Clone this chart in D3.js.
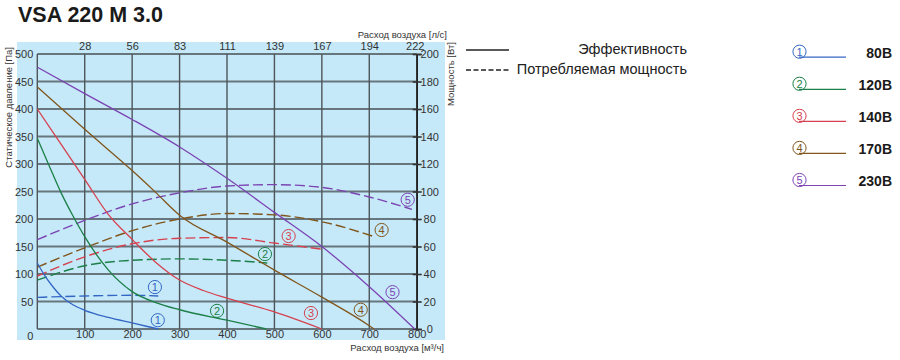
<!DOCTYPE html>
<html><head><meta charset="utf-8">
<script src="https://cdn.jsdelivr.net/npm/d3@7"></script>
<style>body{margin:0;background:#fff;} svg{display:block;font-family:"Liberation Sans",Arial,sans-serif;}</style>
</head><body><svg id="c" width="900" height="360"></svg>
<script>
// ---- data ----
const chartTitle = "VSA 220 M 3.0";
const flowTicks = [0,100,200,300,400,500,600,700,800];
const flowLsLabels = ["28","56","83","111","139","167","194","222"];
const pressureTicks = [50,100,150,200,250,300,350,400,450,500];
const powerTicks = [0,20,40,60,80,100,120,140,160,180,200];
const seriesIds = ["1","2","3","4","5"];
const voltageLabels = ["80В","120В","140В","170В","230В"];

// pressure [Pa] vs flow [m3/h]
const pressure80 = [[0,120],[15,98],[30,80],[50,60],[75,44],[100,34],[150,21],[200,11],[255,0]];
const pressure120 = [[0,347],[25,297],[50,248],[75,206],[100,168],[150,107],[200,68],[250,48],[300,35],[400,16],[483,0]];
const pressure140 = [[0,400],[50,336],[100,272],[150,208],[200,163],[250,121],[300,89],[350,70],[400,56],[500,31],[600,0]];
const pressure170 = [[0,440],[100,363],[200,288],[250,248],[300,207],[400,158],[500,107],[600,58],[700,6],[710,0]];
const pressure230 = [[0,476],[100,428],[200,381],[300,331],[400,274],[500,212],[600,150],[700,77],[796,0]];
// power [W] vs flow [m3/h]
const power80 = [[0,23],[100,24],[200,24.5],[255,24]];
const power120 = [[0,35.5],[100,46],[200,50],[300,51],[400,50],[485,48]];
const power140 = [[0,38.5],[100,52.5],[200,62],[300,66],[400,66.5],[500,62.5],[600,58]];
const power170 = [[0,45],[100,59],[200,71.5],[300,80],[400,84],[500,83],[600,78],[712,67]];
const power230 = [[0,65],[100,79],[200,91],[300,99],[400,104],[500,105],[600,103],[700,96],[790,87]];
// curve marker anchors (data units)
const pressureMarkAt = [[254,16],[379,33],[577,29],[682,35],[749,67]];
const powerMarkAt = [[248,30.5],[480,54.5],[530,67.6],[726,72],[781,94]];

const pressureSeries = [pressure80,pressure120,pressure140,pressure170,pressure230];
const powerSeries = [power80,power120,power140,power170,power230];
const colors = ["#3467c4","#1b7f47","#d5414f","#80561c","#7b44b3"];

// ---- drawing ----
const svg = d3.select("#c");
const x = d3.scaleLinear().domain([0,800]).range([37.3,416.7]);
const yL = d3.scaleLinear().domain([0,500]).range([329,54]);
const yR = d3.scaleLinear().domain([0,200]).range([329,54]);

svg.append("text").attr("x",18).attr("y",22).attr("font-size",21.5).attr("font-weight","bold")
  .attr("fill","#1a1a1a").text(chartTitle);

svg.append("rect").attr("x",17).attr("y",42).attr("width",428).attr("height",298).attr("fill","#c6e9f9");

const g = svg.append("g");
// horizontal grid
g.selectAll("line.h").data(pressureTicks.concat([0])).join("line")
  .attr("x1",x(0)).attr("x2",x(800)).attr("y1",d=>yL(d)).attr("y2",d=>yL(d))
  .attr("stroke","#66767c").attr("stroke-width",1.8);
// vertical grid
g.selectAll("line.v").data(flowTicks).join("line")
  .attr("x1",d=>x(d)).attr("x2",d=>x(d)).attr("y1",yL(0)).attr("y2",yL(500))
  .attr("stroke","#4d5559").attr("stroke-width",1.4);

// right axis
const rAxis = d3.axisRight(yR).tickValues(powerTicks).tickSize(5).tickPadding(4);
const ra = svg.append("g").attr("transform",`translate(${x(800)},0)`).call(rAxis);
ra.select(".domain").attr("stroke","#222").attr("stroke-width",1.6);
ra.selectAll(".tick line").attr("stroke","#333").attr("stroke-width",1.6).attr("x1",-4);
ra.selectAll(".tick text").attr("font-size",11).attr("fill","#333").attr("text-anchor","middle").attr("x",13)
  .attr("font-family","Liberation Sans, Arial, sans-serif");

// left axis labels
const la = d3.axisLeft(yL).tickValues(pressureTicks).tickSize(0).tickPadding(4);
const lag = svg.append("g").attr("transform",`translate(${x(0)},0)`).call(la);
lag.select(".domain").remove();
lag.selectAll(".tick text").attr("font-size",11).attr("fill","#333").attr("font-family","Liberation Sans, Arial, sans-serif");

// bottom axis labels
const ba = d3.axisBottom(x).tickValues(flowTicks.slice(1)).tickSize(0).tickPadding(1);
const bag = svg.append("g").attr("transform",`translate(0,${yL(0)})`).call(ba);
bag.select(".domain").remove();
bag.selectAll(".tick text").attr("font-size",11).attr("fill","#333").attr("font-family","Liberation Sans, Arial, sans-serif");
svg.append("text").attr("x",x(0)-7).attr("y",yL(0)+11).attr("font-size",11).attr("fill","#333")
  .attr("text-anchor","middle").text(String(flowTicks[0]));

// top axis labels
const ta = d3.axisTop(x).tickValues(flowTicks.slice(1)).tickFormat((d,i)=>flowLsLabels[i]).tickSize(0).tickPadding(4);
const tag = svg.append("g").attr("transform",`translate(0,${yL(500)})`).call(ta);
tag.select(".domain").remove();
tag.selectAll(".tick text").attr("font-size",11).attr("fill","#333").attr("font-family","Liberation Sans, Arial, sans-serif");
tag.selectAll(".tick").filter((d,i)=>i===flowLsLabels.length-1).select("text").attr("dx",-2);

// axis titles
svg.append("text").attr("x",447).attr("y",38).attr("font-size",9.5).attr("fill","#333").attr("text-anchor","end").text("Расход воздуха [л/с]");
svg.append("text").attr("x",444).attr("y",351).attr("font-size",9.5).attr("fill","#333").attr("text-anchor","end").text("Расход воздуха [м³/ч]");
svg.append("text").attr("transform","translate(12,47) rotate(-90)").attr("font-size",9.5).attr("fill","#333").attr("text-anchor","end").text("Статическое давление [Па]");
svg.append("text").attr("transform","translate(454,42) rotate(-90)").attr("font-size",9.5).attr("fill","#333").attr("text-anchor","end").text("Мощность [Вт]");

// curves
const lineL = d3.line().x(d=>x(d[0])).y(d=>yL(d[1])).curve(d3.curveMonotoneX);
const lineR = d3.line().x(d=>x(d[0])).y(d=>yR(d[1])).curve(d3.curveMonotoneX);
powerSeries.forEach((s,i)=>{
  svg.append("path").attr("d",lineR(s)).attr("fill","none").attr("stroke",colors[i]).attr("stroke-width",1.4).attr("stroke-dasharray","10,4");
});
pressureSeries.forEach((s,i)=>{
  svg.append("path").attr("d",lineL(s)).attr("fill","none").attr("stroke",colors[i]).attr("stroke-width",1.3);
});

function mark(cx,cy,i){
  const m = svg.append("g").attr("transform",`translate(${cx},${cy})`);
  m.append("circle").attr("r",6.6).attr("fill","none").attr("stroke",colors[i]).attr("stroke-width",1);
  m.append("text").attr("y",4).attr("text-anchor","middle").attr("font-size",11).attr("fill",colors[i]).text(seriesIds[i]);
}
pressureMarkAt.forEach((p,i)=>mark(x(p[0]),yL(p[1]),i));
powerMarkAt.forEach((p,i)=>mark(x(p[0]),yR(p[1]),i));

// legend: line types
svg.append("line").attr("x1",466).attr("x2",509).attr("y1",50).attr("y2",50).attr("stroke","#222").attr("stroke-width",1.3);
svg.append("line").attr("x1",466).attr("x2",509).attr("y1",70).attr("y2",70).attr("stroke","#222").attr("stroke-width",1.3).attr("stroke-dasharray","5,2.5");
svg.append("text").attr("x",687).attr("y",54).attr("font-size",14.5).attr("fill","#222").attr("text-anchor","end").text("Эффективность");
svg.append("text").attr("x",687).attr("y",74).attr("font-size",14.5).attr("fill","#222").attr("text-anchor","end").text("Потребляемая мощность");

// legend: series
const ly = d3.scalePoint().domain(seriesIds).range([51.7,180]);
seriesIds.forEach((id,i)=>{
  const yy = ly(id);
  svg.append("line").attr("x1",799).attr("x2",846).attr("y1",yy+5.5).attr("y2",yy+5.5).attr("stroke",colors[i]).attr("stroke-width",1.2);
  mark(799.5,yy,i);
  svg.append("text").attr("x",892).attr("y",yy+6).attr("font-size",14).attr("font-weight","bold").attr("fill","#1a1a1a")
    .attr("text-anchor","end").text(voltageLabels[i]);
});
</script></body></html>
